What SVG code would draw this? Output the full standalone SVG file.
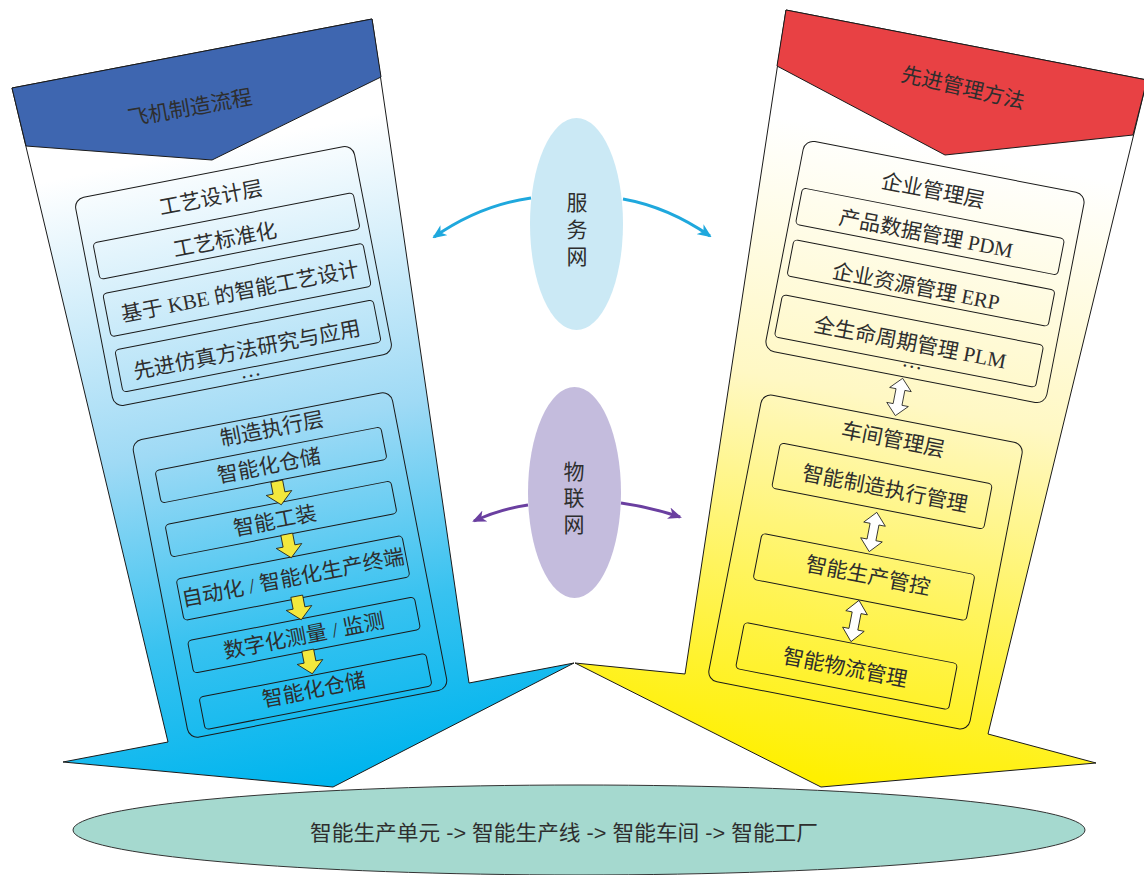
<svg xmlns="http://www.w3.org/2000/svg" width="1144" height="875" viewBox="0 0 1144 875">
<defs>
<linearGradient id="gBlue" gradientUnits="userSpaceOnUse" x1="200" y1="150" x2="330" y2="780">
<stop offset="0" stop-color="#ffffff"/>
<stop offset="0.45" stop-color="#9fdaf5"/>
<stop offset="0.75" stop-color="#38c2f0"/>
<stop offset="1" stop-color="#00b5ee"/>
</linearGradient>
<linearGradient id="gYellow" gradientUnits="userSpaceOnUse" x1="950" y1="150" x2="830" y2="780">
<stop offset="0" stop-color="#ffffff"/>
<stop offset="0.4" stop-color="#fff8c4"/>
<stop offset="0.7" stop-color="#fff45e"/>
<stop offset="1" stop-color="#fff000"/>
</linearGradient>
<marker id="mBlue" viewBox="0 0 14 12" refX="12" refY="6" markerWidth="14" markerHeight="12" markerUnits="userSpaceOnUse" orient="auto">
<path d="M0,0 L14,6 L0,12 L4,6 z" fill="#1fa8dd"/>
</marker>
<marker id="mPurple" viewBox="0 0 14 12" refX="12" refY="6" markerWidth="14" markerHeight="12" markerUnits="userSpaceOnUse" orient="auto">
<path d="M0,0 L14,6 L0,12 L4,6 z" fill="#6a3fa0"/>
</marker>
<path id="yArrow" d="M-6,-12 L6,-12 L6,0 L13,0 L0,12 L-13,0 L-6,0 z"/>
<path id="dArrow" d="M0,-20 L11,-8 L4.5,-8 L4.5,8 L11,8 L0,20 L-11,8 L-4.5,8 L-4.5,-8 L-11,-8 z"/>
</defs>
<style>
.t{font-family:"Liberation Serif","Noto Sans CJK SC",serif;font-size:21px;fill:#2e2e2e;text-anchor:middle;dominant-baseline:central}
.tb{font-family:"Liberation Serif","Noto Sans CJK SC",serif;font-size:21px;fill:#2e2e2e;text-anchor:middle;dominant-baseline:central}
.bx{fill:none;stroke:#1a1a1a;stroke-width:1}
.ya{fill:#f3e83c;stroke:#1a1a1a;stroke-width:0.8}
.da{fill:#ffffff;stroke:#1a1a1a;stroke-width:0.8}
.sh{stroke:#1a1a1a;stroke-width:1}
</style>
<rect width="1144" height="875" fill="#ffffff"/>

<g id="bottom-ellipse">
<ellipse cx="579" cy="830" rx="506" ry="45" fill="#a5d9cf" stroke="#333" stroke-width="1"/>
<text x="564" y="832" class="t" style="font-family:'Liberation Sans','Noto Sans CJK SC',sans-serif;font-size:21px" textLength="508" lengthAdjust="spacingAndGlyphs">智能生产单元 -&gt; 智能生产线 -&gt; 智能车间 -&gt; 智能工厂</text>
</g>

<g id="left-arrow">
<polygon class="sh" fill="url(#gBlue)" points="12,88 372,19 469,683 574,663 333,787 63,762 168,742"/>
<polygon class="sh" fill="#3e66b0" points="12,88 372,19 381,77 212,160 26,146"/>
<text class="tb" transform="translate(190,108) rotate(-10)">飞机制造流程</text>
</g>

<g id="right-arrow">
<polygon class="sh" fill="url(#gYellow)" points="786,10 1147,80 988,734 1096,763 821,787 575,663 685,674"/>
<polygon class="sh" fill="#e84144" points="786,10 1147,80 1133,135 945,155 777,66"/>
<text class="tb" transform="translate(963,88) rotate(13)">先进管理方法</text>
</g>

<g id="process-design-layer">
<rect class="bx" transform="translate(233.5,276) rotate(-11)" x="-142" y="-106" width="284" height="212" rx="10"/>
<text class="t" transform="translate(211,198) rotate(-11)">工艺设计层</text>
</g>
<g id="node-standardization">
<rect class="bx" transform="translate(226.5,236) rotate(-11)" x="-132.5" y="-18.5" width="265" height="37" rx="4"/>
<text class="t" transform="translate(225,240) rotate(-11)">工艺标准化</text>
</g>
<g id="node-kbe">
<rect class="bx" transform="translate(237,290) rotate(-11)" x="-132.5" y="-22" width="265" height="44" rx="4"/>
<text class="t" transform="translate(240,292) rotate(-11)">基于 KBE 的智能工艺设计</text>
</g>
<g id="node-simulation">
<rect class="bx" transform="translate(248,346) rotate(-11)" x="-131.5" y="-21.5" width="263" height="43" rx="4"/>
<text class="t" transform="translate(247,350) rotate(-11)">先进仿真方法研究与应用</text>
<text class="t" transform="translate(250,370) rotate(-11)">…</text>
</g>

<g id="manufacturing-execution-layer">
<rect class="bx" transform="translate(290,565) rotate(-11)" x="-132" y="-151.5" width="264" height="303" rx="10"/>
<text class="t" transform="translate(272,429) rotate(-11)">制造执行层</text>
</g>
<g id="node-storage-1">
<rect class="bx" transform="translate(271,465) rotate(-11)" x="-115" y="-16.5" width="230" height="33" rx="4"/>
<text class="t" transform="translate(269,466) rotate(-11)">智能化仓储</text>
</g>
<g id="node-tooling">
<rect class="bx" transform="translate(281,519) rotate(-11)" x="-115" y="-16.5" width="230" height="33" rx="4"/>
<text class="t" transform="translate(275,521) rotate(-11)">智能工装</text>
</g>
<g id="node-terminal">
<rect class="bx" transform="translate(293,578) rotate(-11)" x="-115" y="-21" width="230" height="42" rx="4"/>
<text class="t" transform="translate(293,578) rotate(-11)">自动化 / 智能化生产终端</text>
</g>
<g id="node-measure">
<rect class="bx" transform="translate(304,635) rotate(-11)" x="-115.5" y="-16.5" width="231" height="33" rx="4"/>
<text class="t" transform="translate(304,636) rotate(-11)">数字化测量 / 监测</text>
</g>
<g id="node-storage-2">
<rect class="bx" transform="translate(315.5,691.5) rotate(-11)" x="-115.5" y="-16.5" width="231" height="33" rx="4"/>
<text class="t" transform="translate(314,690) rotate(-11)">智能化仓储</text>
</g>

<g id="enterprise-layer">
<rect class="bx" transform="translate(925,272) rotate(11)" x="-143" y="-107" width="286" height="214" rx="10"/>
<text class="t" transform="translate(933,191) rotate(11)">企业管理层</text>
</g>
<g id="node-pdm">
<rect class="bx" transform="translate(930,231.5) rotate(11)" x="-133.5" y="-18.5" width="267" height="37" rx="4"/>
<text class="t" transform="translate(926,234) rotate(11)">产品数据管理 PDM</text>
</g>
<g id="node-erp">
<rect class="bx" transform="translate(921,283) rotate(11)" x="-133" y="-18.5" width="266" height="37" rx="4"/>
<text class="t" transform="translate(916,287) rotate(11)">企业资源管理 ERP</text>
</g>
<g id="node-plm">
<rect class="bx" transform="translate(909,341) rotate(11)" x="-133" y="-21.5" width="266" height="43" rx="4"/>
<text class="t" transform="translate(910,343) rotate(11)">全生命周期管理 PLM</text>
<text class="t" transform="translate(913,361) rotate(11)">…</text>
</g>

<g id="workshop-layer">
<rect class="bx" transform="translate(865.5,562) rotate(11)" x="-133" y="-146" width="266" height="292" rx="10"/>
<text class="t" transform="translate(893,440) rotate(11)">车间管理层</text>
</g>
<g id="node-mes">
<rect class="bx" transform="translate(882,486) rotate(11)" x="-108" y="-23" width="216" height="46" rx="4"/>
<text class="t" transform="translate(885,489) rotate(11)">智能制造执行管理</text>
</g>
<g id="node-control">
<rect class="bx" transform="translate(864,577) rotate(11)" x="-108.5" y="-23.5" width="217" height="47" rx="4"/>
<text class="t" transform="translate(868,576) rotate(11)">智能生产管控</text>
</g>
<g id="node-logistics">
<rect class="bx" transform="translate(846.5,666) rotate(11)" x="-108.5" y="-23.5" width="217" height="47" rx="4"/>
<text class="t" transform="translate(845,668) rotate(11)">智能物流管理</text>
</g>

<g id="service-network">
<ellipse cx="576.5" cy="224" rx="46.5" ry="106" fill="#cbe9f5"/>
<text class="t" x="577" y="203">服</text>
<text class="t" x="577" y="230">务</text>
<text class="t" x="577" y="257">网</text>
</g>
<g id="iot-network">
<ellipse cx="574.5" cy="492.5" rx="46.5" ry="105.5" fill="#c4bcdd"/>
<text class="t" x="574" y="472">物</text>
<text class="t" x="574" y="498">联</text>
<text class="t" x="574" y="525">网</text>
</g>

<g id="connectors">
<use href="#yArrow" class="ya" transform="translate(279,493) rotate(-11)"/>
<use href="#yArrow" class="ya" transform="translate(289,546) rotate(-11)"/>
<use href="#yArrow" class="ya" transform="translate(299,608) rotate(-11)"/>
<use href="#yArrow" class="ya" transform="translate(310,662) rotate(-11)"/>
<use href="#dArrow" class="da" transform="translate(899,397) rotate(11) scale(1,0.95)"/>
<use href="#dArrow" class="da" transform="translate(873,532) rotate(11)"/>
<use href="#dArrow" class="da" transform="translate(855,621) rotate(11) scale(1,1.05)"/>
<path d="M531,198 Q480,205 434,237" fill="none" stroke="#1fa8dd" stroke-width="3" marker-end="url(#mBlue)"/>
<path d="M623,199 Q668,207 710,236" fill="none" stroke="#1fa8dd" stroke-width="3" marker-end="url(#mBlue)"/>
<path d="M528,505 Q500,509 474,521" fill="none" stroke="#6a3fa0" stroke-width="3" marker-end="url(#mPurple)"/>
<path d="M621,503 Q650,507 680,517" fill="none" stroke="#6a3fa0" stroke-width="3" marker-end="url(#mPurple)"/>
</g>
</svg>
